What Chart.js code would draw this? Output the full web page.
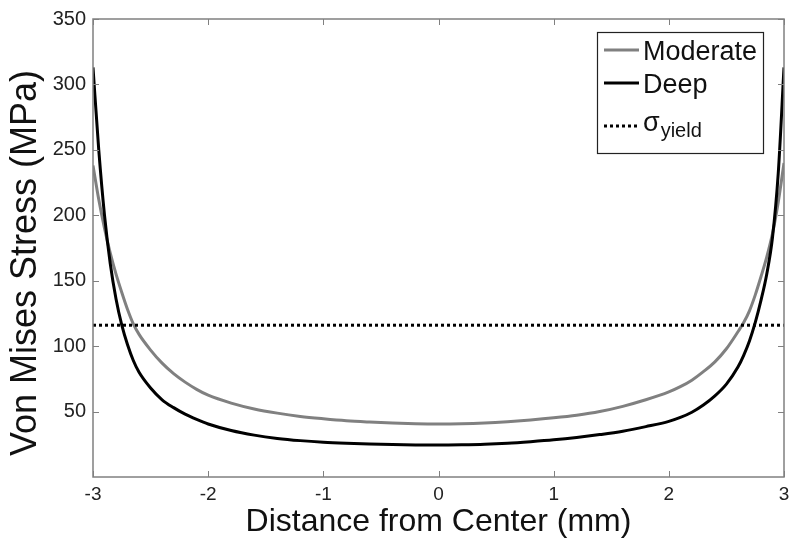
<!DOCTYPE html>
<html>
<head>
<meta charset="utf-8">
<script src="https://cdn.jsdelivr.net/npm/chart.js@4/dist/chart.umd.min.js"></script>
<style>
  body { margin: 0; background: #fff; }
  #wrap { width: 800px; height: 546px; }
</style>
</head>
<body>
<div id="wrap"><canvas id="stressChart" width="800" height="546"></canvas></div>
<script>
// distance from center (mm)
const distance = [-3.0, -2.95, -2.9, -2.85, -2.8, -2.75, -2.7, -2.65, -2.6, -2.5, -2.4, -2.3, -2.2, -2.1, -2.0,
  -1.8, -1.6, -1.4, -1.2, -1.0, -0.8, -0.6, -0.4, -0.2, 0, 0.2, 0.4, 0.6, 0.8, 1.0, 1.2, 1.4, 1.6, 1.8,
  2.0, 2.1, 2.2, 2.3, 2.4, 2.5, 2.6, 2.65, 2.7, 2.75, 2.8, 2.85, 2.9, 2.95, 3.0];

const moderate = [238, 212, 190, 171, 155, 141, 128, 117, 109, 97, 87, 79, 72.5, 67, 62.5,
  56.5, 52, 48.8, 46.3, 44.5, 43, 42, 41.2, 40.7, 40.5, 40.7, 41.3, 42.3, 43.6, 45.2, 47.2, 50, 54, 59,
  65, 69, 74, 80.5, 88, 98, 111, 118, 127, 139, 153, 168, 186, 210, 240];

const deep = [313, 250, 200, 163, 136, 116, 101, 89, 80, 68, 59, 53, 48, 44, 40.5,
  35.5, 32, 29.5, 27.8, 26.6, 25.8, 25.2, 24.8, 24.5, 24.4, 24.6, 25, 25.8, 27, 28.4, 30.2, 32.4, 35, 38.5,
  42.5, 45.5, 49.5, 55, 62, 71, 84, 93, 104, 118, 135, 155, 183, 232, 313];

const yieldStress = 116;

const xTicks = [-3, -2, -1, 0, 1, 2, 3];
const yTicks = [50, 100, 150, 200, 250, 300, 350];

const FONT = "'Liberation Sans', Arial, sans-serif";

function toPoints(xs, ys) {
  return xs.map((x, i) => ({ x: x, y: ys[i] }));
}

// MATLAB style frame with inward ticks, y title and legend box
const framePlugin = {
  id: "frame",
  afterDraw(chart) {
    const ctx = chart.ctx;
    const a = chart.chartArea;
    const xs = chart.scales.x;
    const ys = chart.scales.y;

    ctx.save();
    ctx.strokeStyle = "#808080";
    ctx.lineWidth = 1.5;
    ctx.strokeRect(a.left, a.top, a.right - a.left, a.bottom - a.top);

    ctx.lineWidth = 1;
    ctx.beginPath();
    xTicks.forEach(t => {
      const px = Math.round(xs.getPixelForValue(t)) + 0.5;
      ctx.moveTo(px, a.bottom); ctx.lineTo(px, a.bottom - 6);
      ctx.moveTo(px, a.top); ctx.lineTo(px, a.top + 6);
    });
    yTicks.forEach(t => {
      const py = Math.round(ys.getPixelForValue(t)) + 0.5;
      ctx.moveTo(a.left, py); ctx.lineTo(a.left + 6, py);
      ctx.moveTo(a.right, py); ctx.lineTo(a.right - 6, py);
    });
    ctx.stroke();

    // y axis title
    ctx.save();
    ctx.translate(26, 263);
    ctx.rotate(-Math.PI / 2);
    ctx.fillStyle = "#111";
    ctx.textAlign = "center";
    ctx.textBaseline = "middle";
    ctx.font = "36px " + FONT;
    ctx.fillText("Von Mises Stress (MPa)", 0, 0);
    ctx.restore();

    // legend
    const bx = a.right - 187, by = a.top + 13, bw = 166, bh = 121;
    ctx.fillStyle = "#fff";
    ctx.fillRect(bx, by, bw, bh);
    ctx.strokeStyle = "#222";
    ctx.lineWidth = 1.2;
    ctx.strokeRect(bx + 0.5, by + 0.5, bw, bh);

    const entries = [
      { color: "#808080", dash: [], y: by + 18 },
      { color: "#000", dash: [], y: by + 51 },
      { color: "#000", dash: [3, 3], y: by + 94 }
    ];
    entries.forEach(e => {
      ctx.beginPath();
      ctx.setLineDash(e.dash);
      ctx.strokeStyle = e.color;
      ctx.lineWidth = 3;
      ctx.moveTo(bx + 7, e.y);
      ctx.lineTo(bx + 42, e.y);
      ctx.stroke();
    });
    ctx.setLineDash([]);

    ctx.fillStyle = "#111";
    ctx.textBaseline = "alphabetic";
    ctx.textAlign = "left";
    ctx.font = "27px " + FONT;
    ctx.fillText("Moderate", bx + 46, by + 28);
    ctx.fillText("Deep", bx + 46, by + 61);
    ctx.fillText("σ", bx + 46, by + 99);
    const sw = ctx.measureText("σ").width;
    ctx.font = "20px " + FONT;
    ctx.fillText("yield", bx + 46 + sw + 1, by + 105);
    ctx.restore();
  }
};

new Chart(document.getElementById("stressChart"), {
  type: "line",
  data: {
    datasets: [
      {
        label: "Moderate",
        data: toPoints(distance, moderate),
        borderColor: "#808080",
        borderWidth: 3,
        pointRadius: 0,
        cubicInterpolationMode: "monotone",
        order: 2
      },
      {
        label: "Deep",
        data: toPoints(distance, deep),
        borderColor: "#000",
        borderWidth: 3,
        pointRadius: 0,
        cubicInterpolationMode: "monotone",
        order: 1
      },
      {
        label: "σyield",
        data: toPoints([-3, 3], [yieldStress, yieldStress]),
        borderColor: "#000",
        borderWidth: 3,
        borderDash: [3, 3],
        pointRadius: 0,
        order: 0
      }
    ]
  },
  options: {
    responsive: false,
    animation: false,
    layout: { padding: { top: 19, right: 16, left: 0, bottom: 0 } },
    plugins: {
      legend: { display: false },
      tooltip: { enabled: false }
    },
    scales: {
      x: {
        type: "linear",
        min: -3,
        max: 3,
        border: { display: false },
        grid: { display: false, drawTicks: false },
        afterBuildTicks: scale => { scale.ticks = xTicks.map(v => ({ value: v })); },
        afterFit: scale => { scale.height = 69; },
        ticks: {
          color: "#222",
          padding: 6,
          maxRotation: 0,
          font: { family: FONT, size: 19 }
        },
        title: {
          display: true,
          text: "Distance from Center (mm)",
          color: "#111",
          padding: { top: 5, bottom: 5 },
          font: { family: FONT, size: 32 }
        }
      },
      y: {
        min: 0,
        max: 350,
        border: { display: false },
        grid: { display: false, drawTicks: false },
        afterBuildTicks: scale => { scale.ticks = yTicks.map(v => ({ value: v })); },
        afterFit: scale => { scale.width = 93; },
        ticks: {
          color: "#222",
          padding: 7,
          font: { family: FONT, size: 20 }
        }
      }
    }
  },
  plugins: [framePlugin]
});
</script>
</body>
</html>
